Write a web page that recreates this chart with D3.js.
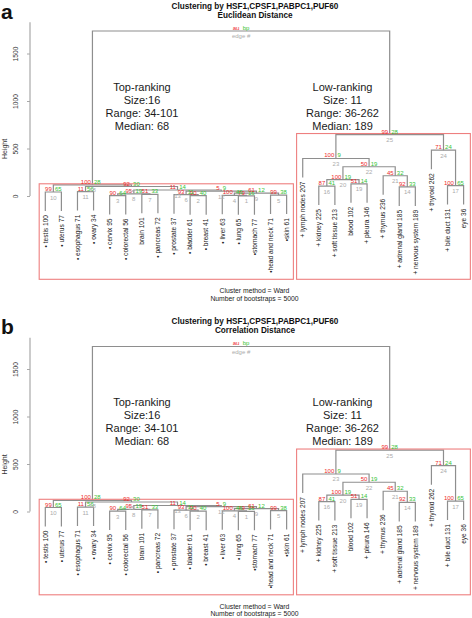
<!DOCTYPE html>
<html><head><meta charset="utf-8">
<script src="https://cdn.jsdelivr.net/npm/d3@7"></script>
<style>
body{margin:0;background:#fff}
svg{display:block}
text{font-family:"Liberation Sans",Arial,Helvetica,sans-serif}
</style>
</head><body>
<svg id="chart" width="472" height="618"></svg>
<script>
// ---------------- DATA ----------------
const panelLetters = ["a", "b"];
const titleLine1 = "Clustering by HSF1,CPSF1,PABPC1,PUF60";
const titleLine2 = ["Euclidean Distance", "Correlation Distance"];
const leafLabels = [
  "\u2022 testis 100", "\u2022 uterus  77", "\u2022 esophagus  71", "\u2022 ovary  34",
  "\u2022 cervix  95", "\u2022 colorectal  56", "brain 101", "\u2022 pancreas  72",
  "\u2022 prostate  37", "\u2022 bladder  61", "\u2022 breast  41", "\u2022 liver  63",
  "\u2022 lung  65", "\u2022stomach  77", "\u2022head and neck  71", "\u2022skin  61",
  "+ lymph nodes 207", "+ kidney 225", "+ soft tissue 213", "blood 102",
  "+ pleura 146", "+ thymus 236", "+ adrenal gland 185", "+ nervous system 189",
  "+ thyroid 262", "+ bile duct 131", "eye  36"
];
// merges: L<i> = leaf i (display order), E<n> = edge n
const edgeIds     = [1, 2, 3, 4, 5, 6, 7, 8, 9, 10, 11, 12, 13, 14, 15, 16, 17, 18, 19, 20, 21, 22, 23, 24, 25];
const edgeLeft    = ["L12","L9","L4","L11","L14","L8","L6","E3","E4","L0","L2","E6","E8","L22","E11","L17","L25","E10","L19","E16","L21","E20","L16","L24","E23"];
const edgeRight   = ["L13","L10","L5","E1","L15","E2","L7","E7","E5","L1","L3","E9","E12","L23","E13","L18","L26","E15","L20","E19","E14","E21","E22","E17","E24"];
const edgeHeights = [2, 3.5, 5, 7, 10, 14, 18, 23, 30, 42, 47, 52, 63, 96, 100, 104, 110, 118, 128, 172, 213, 308, 395, 482, 647];
const edgeAU      = [79, 90, 90, 100, 99, 93, 51, 95, 61, 99, 11, 5, 11, 92, 92, 87, 100, 100, 51, 100, 45, 50, 100, 71, 99];
const edgeBP      = [16, 40, 64, 46, 38, 11, 33, 19, 12, 65, 56, 9, 14, 33, 30, 41, 65, 28, 14, 19, 32, 19, 9, 24, 28];
const rootChildren = ["E18", "E25"];
const rootHeight = 1737;
const hangHeight = 200;
const yTicks = [0, 500, 1000, 1500];
const clusterEdges   = [18, 25];
const clusterFirst   = [0, 16];
const clusterLast    = [15, 26];
const clusterNames   = ["Top-ranking", "Low-ranking"];
const clusterSizes   = ["Size:16", "Size: 11"];
const clusterRanges  = ["Range: 34-101", "Range: 36-262"];
const clusterMedians = ["Median: 68", "Median: 189"];
const footer1 = "Cluster method = Ward";
const footer2 = "Number of bootstraps = 5000";

// ---------------- LAYOUT ----------------
const svg = d3.select("#chart");
const x = d3.scaleLinear().domain([0, leafLabels.length - 1]).range([45.3, 463.6]);
const y = d3.scaleLinear().domain([0, 1500]).range([196, 53.5]);
const panelOffsets = [0, 315.5];
const LINE = "#8e8e8e", RED = "#ee2a2a", GREEN = "#35c435", GRAY = "#ababab";

const nodes = {};
edgeIds.forEach((id, i) => {
  nodes["E" + id] = {id, left: edgeLeft[i], right: edgeRight[i], h: edgeHeights[i], au: edgeAU[i], bp: edgeBP[i]};
});
nodes.ROOT = {id: "root", left: rootChildren[0], right: rootChildren[1], h: rootHeight, au: "au", bp: "bp", edge: "edge #"};

function pos(key) {
  if (key[0] === "L") return {x: x(+key.slice(1)), leaf: true};
  const n = nodes[key];
  if (n.x === undefined) n.x = (pos(n.left).x + pos(n.right).x) / 2;
  return {x: n.x, h: n.h, leaf: false};
}
Object.keys(nodes).forEach(pos);

function drawPanel(p) {
  const g = svg.append("g").attr("transform", `translate(0,${panelOffsets[p]})`);

  g.append("text").attr("x", 1).attr("y", 18.5).attr("font-size", 21).attr("font-weight", "bold")
    .attr("fill", "#111").text(panelLetters[p]);
  g.append("text").attr("x", 255).attr("y", 8.6).attr("text-anchor", "middle").attr("font-size", 8.2)
    .attr("font-weight", "bold").attr("fill", "#111").text(titleLine1);
  g.append("text").attr("x", 255).attr("y", 17.6).attr("text-anchor", "middle").attr("font-size", 8.2)
    .attr("font-weight", "bold").attr("fill", "#111").text(titleLine2[p]);

  // axis
  const ax = g.append("g").attr("transform", "translate(30,0)")
    .call(d3.axisLeft(y).tickValues(yTicks).tickFormat(d3.format("d")).tickSize(3).tickSizeOuter(0));
  ax.attr("font-family", null).attr("font-size", null);
  ax.select(".domain").remove();
  ax.append("line").attr("x1", 0).attr("x2", 0).attr("y1", y(0)).attr("y2", y(1830))
    .attr("stroke", "#a8a8a8").attr("stroke-width", 1.2);
  ax.selectAll(".tick line").attr("stroke", "#a8a8a8");
  ax.selectAll(".tick text").attr("transform", "rotate(-90)").attr("x", 0).attr("y", -12)
    .attr("dy", null).attr("text-anchor", "middle").attr("font-size", 6.7).attr("fill", "#333");
  g.append("text").attr("transform", "translate(6.8,149) rotate(-90)").attr("text-anchor", "middle")
    .attr("font-size", 7).attr("fill", "#333").text("Height");

  // dendrogram lines
  const tree = g.append("g").attr("fill", "none").attr("stroke", LINE).attr("stroke-width", 1.2);
  Object.keys(nodes).forEach(k => {
    const n = nodes[k];
    const yn = y(n.h);
    const bottom = c => c[0] === "L" ? y(n.h - hangHeight) : y(nodes[c].h);
    const xl = pos(n.left).x, xr = pos(n.right).x;
    tree.append("path").attr("d",
      `M${xl},${bottom(n.left)}V${yn}H${xr}V${bottom(n.right)}`);
  });

  // red boxes
  clusterEdges.forEach((e, i) => {
    const x0 = x(clusterFirst[i] - 0.38), x1 = x(clusterLast[i] + 0.42);
    const y0 = y(nodes["E" + e].h) - 1;
    g.append("rect").attr("x", x0).attr("y", y0).attr("width", x1 - x0).attr("height", 279.3 - y0)
      .attr("fill", "none").attr("stroke", "#ee7f7f").attr("stroke-width", 1.1);
  });

  // au / bp / edge labels
  const lab = g.append("g").attr("font-size", 6);
  Object.keys(nodes).forEach(k => {
    const n = nodes[k];
    const yn = y(n.h);
    lab.append("text").attr("x", n.x - 1.6).attr("y", yn - 1).attr("text-anchor", "end")
      .attr("fill", RED).text(n.au);
    lab.append("text").attr("x", n.x + 1.6).attr("y", yn - 1).attr("text-anchor", "start")
      .attr("fill", GREEN).text(n.bp);
    lab.append("text").attr("x", n.x).attr("y", yn + 7.5).attr("text-anchor", "middle")
      .attr("fill", GRAY).text(n.edge || n.id);
  });

  // leaf labels
  const parentOf = {};
  Object.keys(nodes).forEach(k => { parentOf[nodes[k].left] = nodes[k]; parentOf[nodes[k].right] = nodes[k]; });
  leafLabels.forEach((t, i) => {
    const par = parentOf["L" + i];
    const yy = y(par.h - hangHeight) + 4;
    const xx = x(i);
    g.append("text").attr("transform", `translate(${xx},${yy}) rotate(-90)`)
      .attr("text-anchor", "end").attr("dy", "0.35em").attr("font-size", 6.6).attr("fill", "#222").text(t);
  });

  // cluster annotation
  const cx = [142, 342.5];
  clusterNames.forEach((nm, i) => {
    [nm, clusterSizes[i], clusterRanges[i], clusterMedians[i]].forEach((t, j) => {
      g.append("text").attr("x", cx[i]).attr("y", 90.5 + 13 * j).attr("text-anchor", "middle")
        .attr("font-size", 11).attr("fill", "#1a1a1a").text(t);
    });
  });

  g.append("text").attr("x", 254.5).attr("y", 293).attr("text-anchor", "middle").attr("font-size", 6.8)
    .attr("fill", "#222").text(footer1);
  g.append("text").attr("x", 254.5).attr("y", 300.5).attr("text-anchor", "middle").attr("font-size", 6.8)
    .attr("fill", "#222").text(footer2);
}
drawPanel(0);
drawPanel(1);
</script>
</body></html>
